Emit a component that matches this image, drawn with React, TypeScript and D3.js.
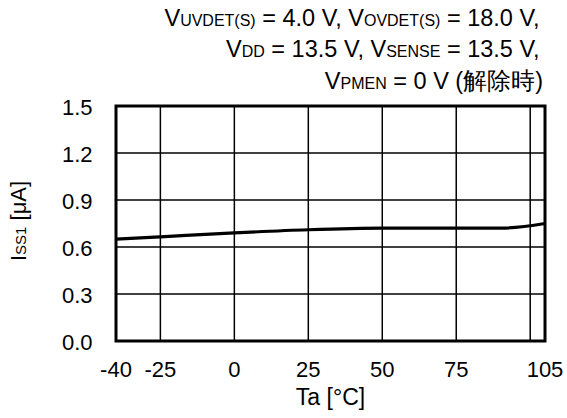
// @ts-nocheck
import React, { useEffect, useRef } from 'react'
import * as d3 from 'd3'

// Ta [°C] vs ISS1 [μA]
const temps = [-40, -25, 0, 25, 50, 75, 90, 105]
const iss1 = [0.65, 0.665, 0.69, 0.71, 0.72, 0.72, 0.72, 0.75]

const xTicks = [-40, -25, 0, 25, 50, 75, 105]
const xGrid = [-25, 0, 25, 50, 75, 100]
const yTicks = [0.0, 0.3, 0.6, 0.9, 1.2, 1.5]

// measurement conditions: [V, subscript, rest]
const conditions = [
    [['V', 'UVDET(S)', ' = 4.0 V, '], ['V', 'OVDET(S)', ' = 18.0 V,']],
    [['V', 'DD', ' = 13.5 V, '], ['V', 'SENSE', ' = 13.5 V,']],
    [['V', 'PMEN', ' = 0 V (解除時)']],
]

const FONT = 'Liberation Sans, Arial, sans-serif'

export const App: React.FC = () => {
    let ref = useRef(null)

    const buildChart = () => {
        const width = 567,
            height = 418
        const left = 116, right = 545, top = 106, bottom = 341

        const x = d3.scaleLinear([-40, 105], [left, right])
        const y = d3.scaleLinear([0, 1.5], [bottom, top])

        const chart = d3.select(ref.current)
            .attr('width', width)
            .attr('height', height)
            .style('font-family', FONT)

        chart.selectAll('*').remove()

        // grid lines
        const grid = chart.append('g')
        grid.selectAll('line.v')
            .data(xGrid)
            .join('line')
            .attr('x1', d => x(d)).attr('x2', d => x(d))
            .attr('y1', top).attr('y2', bottom)
            .attr('stroke', '#000').attr('stroke-width', 1.5)
        grid.selectAll('line.h')
            .data(yTicks.slice(1, -1))
            .join('line')
            .attr('x1', left).attr('x2', right)
            .attr('y1', d => y(d)).attr('y2', d => y(d))
            .attr('stroke', '#000').attr('stroke-width', 1.5)

        // data line
        const linePath = d3.line()
            .x((d, i) => x(temps[i]))
            .y(d => y(d))
            .curve(d3.curveMonotoneX)
        chart.append('path')
            .attr('fill', 'none')
            .attr('stroke', '#000')
            .attr('stroke-width', 3.2)
            .attr('d', linePath(iss1))

        // frame
        chart.append('rect')
            .attr('x', left).attr('y', top)
            .attr('width', right - left).attr('height', bottom - top)
            .attr('fill', 'none')
            .attr('stroke', '#000').attr('stroke-width', 3)

        // x-axis labels
        chart.append('g')
            .selectAll('text')
            .data(xTicks)
            .join('text')
            .attr('x', d => x(d))
            .attr('y', 377)
            .attr('text-anchor', 'middle')
            .attr('font-size', 22)
            .text(d => d)

        // y-axis labels
        chart.append('g')
            .selectAll('text')
            .data(yTicks)
            .join('text')
            .attr('x', 92.5)
            .attr('y', d => y(d) + 9)
            .attr('text-anchor', 'end')
            .attr('font-size', 22)
            .text(d => d.toFixed(1))

        // axis titles
        chart.append('text')
            .attr('x', (left + right) / 2)
            .attr('y', 405)
            .attr('text-anchor', 'middle')
            .attr('font-size', 23)
            .text('Ta [°C]')

        const yt = chart.append('text')
            .attr('transform', `translate(26, 221) rotate(-90)`)
            .attr('text-anchor', 'middle')
            .attr('font-size', 22)
        yt.append('tspan').text('I')
        yt.append('tspan').attr('font-size', 15).text('SS1')
        yt.append('tspan').text(' [μA]')

        // condition header
        conditions.forEach((line, i) => {
            const t = chart.append('text')
                .attr('x', i < 2 ? 539.5 : 543)
                .attr('y', 25.5 + i * 31.5)
                .attr('text-anchor', 'end')
                .attr('font-size', 23.5)
            line.forEach(([a, sub, rest]) => {
                t.append('tspan').text(a)
                t.append('tspan').attr('font-size', 16).text(sub)
                t.append('tspan').text(rest)
            })
        })
    }

    useEffect(() => {
        buildChart()
    }, [])

    return <svg ref={ref} width='567' height='418' style={{ display: 'block', position: 'absolute', left: 0, top: 0 }}></svg>
}

export default App
